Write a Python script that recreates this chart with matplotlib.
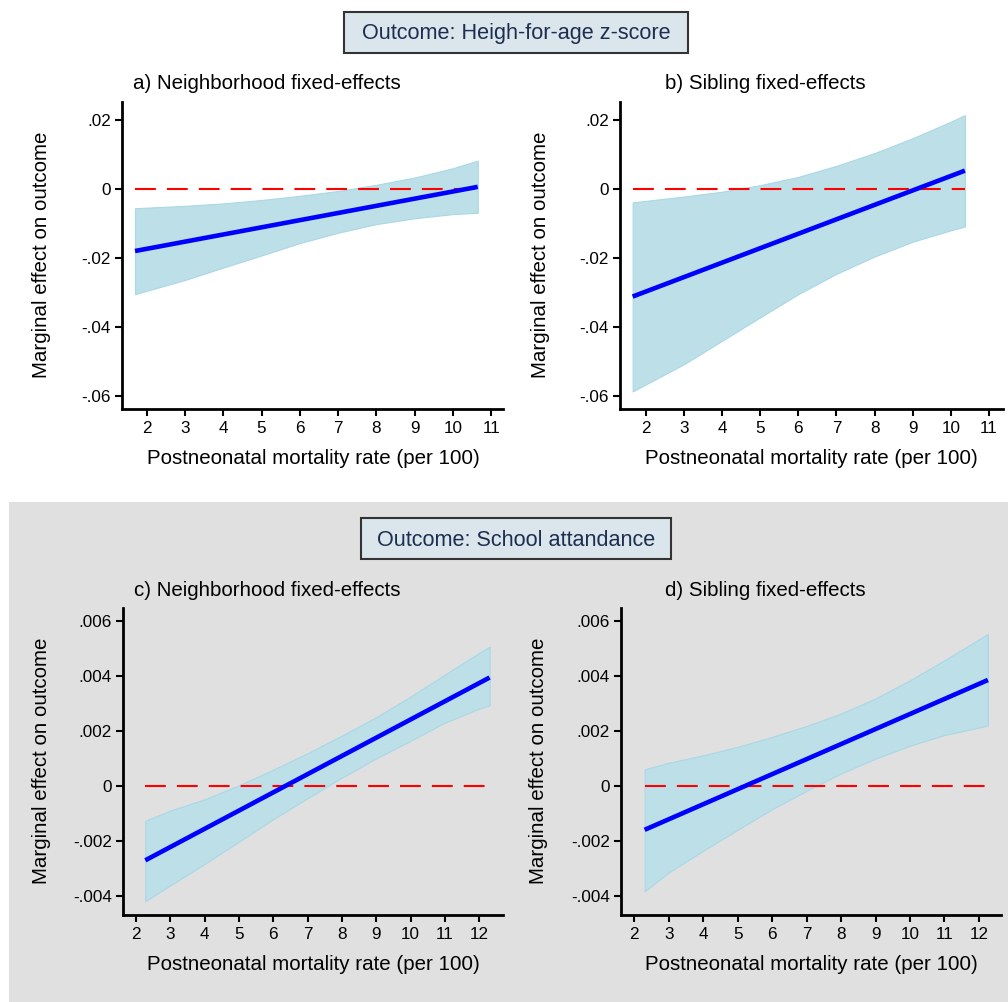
import matplotlib
matplotlib.use("Agg")
import matplotlib.pyplot as plt
from matplotlib.patches import Rectangle

plt.rcParams['font.family'] = ['Liberation Sans', 'DejaVu Sans']

# panel a) height-for-age, neighborhood FE
a_x = [1.695, 3, 4, 5, 6, 7, 8, 9, 10, 10.65]
a_upper = [-0.0056, -0.0049, -0.0042, -0.0032, -0.0020, -0.0006, 0.0012, 0.0033, 0.0060, 0.0082]
a_lower = [-0.0305, -0.0264, -0.0228, -0.0193, -0.0157, -0.0127, -0.0102, -0.0085, -0.0073, -0.0069]
a_line = [-0.0180, 0.0006]

# panel b) height-for-age, sibling FE
b_x = [1.65, 3, 4, 5, 6, 7, 8, 9, 10, 10.37]
b_upper = [-0.0039, -0.0022, -0.0008, 0.0011, 0.0035, 0.0067, 0.0104, 0.0147, 0.0195, 0.0214]
b_lower = [-0.0587, -0.0508, -0.0440, -0.0372, -0.0305, -0.0246, -0.0196, -0.0153, -0.0120, -0.0109]
b_line = [-0.0312, 0.0053]

# panel c) school attendance, neighborhood FE
c_x = [2.27, 3, 4, 5, 6, 7, 8, 9, 10, 11, 12, 12.3]
c_upper = [-0.00127, -0.00090, -0.00049, 0.00002, 0.00059, 0.00119, 0.00183, 0.00250, 0.00325, 0.00405, 0.00484, 0.00506]
c_lower = [-0.00420, -0.00362, -0.00284, -0.00203, -0.00121, -0.00045, 0.00030, 0.00100, 0.00164, 0.00230, 0.00281, 0.00293]
c_line = [-0.00271, 0.00394]

# panel d) school attendance, sibling FE
d_x = [2.30, 3, 4, 5, 6, 7, 8, 9, 10, 11, 12, 12.26]
d_upper = [0.00060, 0.00084, 0.00111, 0.00142, 0.00178, 0.00218, 0.00263, 0.00318, 0.00384, 0.00457, 0.00533, 0.00553]
d_lower = [-0.00384, -0.00315, -0.00236, -0.00160, -0.00085, -0.00018, 0.00045, 0.00099, 0.00146, 0.00185, 0.00212, 0.00220]
d_line = [-0.00160, 0.00385]

top_yticks = [-0.06, -0.04, -0.02, 0, 0.02]
top_ylabels = ['-.06', '-.04', '-.02', '0', '.02']
top_xticks = list(range(2, 12))
bot_yticks = [-0.004, -0.002, 0, 0.002, 0.004, 0.006]
bot_ylabels = ['-.004', '-.002', '0', '.002', '.004', '.006']
bot_xticks = list(range(2, 13))

titles = ['a) Neighborhood fixed-effects', 'b) Sibling fixed-effects',
          'c) Neighborhood fixed-effects', 'd) Sibling fixed-effects']
headers = ['Outcome: Heigh-for-age z-score', 'Outcome: School attandance']

W, H = 1008, 1002
fig = plt.figure(figsize=(W / 100, H / 100), dpi=100)

def fx(px):
    return px / W

def fy(py):
    return 1 - py / H

# grey background of the lower half
fig.patches.append(Rectangle((fx(9), 0), fx(W - 9), fy(502), transform=fig.transFigure,
                             facecolor='#e0e0e0', edgecolor='none', zorder=-5))

BAND = '#bcdfe8'
BAND_EDGE = '#a9d8e6'

def panel(box, xs, up, lo, line, xlim, ylim, xticks, yticks, ylabels):
    l, r, t, b = box
    ax = fig.add_axes([fx(l), fy(b), fx(r - l), (b - t) / H])
    ax.set_zorder(2)
    ax.patch.set_alpha(0)
    ax.fill_between(xs, lo, up, facecolor=BAND, edgecolor=BAND_EDGE, linewidth=0.8, zorder=1)
    ax.plot([xs[0], xs[-1]], [0, 0], color='#ff0000', lw=1.5, dashes=(10, 5.3), zorder=2)
    ax.plot([xs[0], xs[-1]], line, color='#0000ff', lw=3.3, solid_capstyle='butt', zorder=3)
    ax.set_xlim(xlim)
    ax.set_ylim(ylim)
    ax.set_xticks(xticks)
    ax.set_yticks(yticks)
    ax.set_yticklabels(ylabels)
    for s in ['top', 'right']:
        ax.spines[s].set_visible(False)
    for s in ['left', 'bottom']:
        ax.spines[s].set_linewidth(2)
    ax.tick_params(width=1.5, length=5, labelsize=12.3, pad=3.5)
    ax.tick_params(axis='y', pad=3)
    return ax

panel((122, 503, 102, 409), a_x, a_upper, a_lower, a_line, (1.355, 11.31), (-0.0638, 0.0252),
      top_xticks, top_yticks, top_ylabels)
panel((620, 1003, 102, 409), b_x, b_upper, b_lower, b_line, (1.318, 11.37), (-0.0638, 0.0252),
      top_xticks, top_yticks, top_ylabels)
panel((123, 503, 608, 915), c_x, c_upper, c_lower, c_line, (1.62, 12.69), (-0.0047, 0.00647),
      bot_xticks, bot_yticks, bot_ylabels)
panel((621, 1001, 608, 915), d_x, d_upper, d_lower, d_line, (1.614, 12.64), (-0.0047, 0.00647),
      bot_xticks, bot_yticks, bot_ylabels)

# panel titles and axis labels
for i, (cx, by) in enumerate([(267, 89), (765, 89), (267, 596), (765, 596)]):
    fig.text(fx(cx), fy(by), titles[i], ha='center', va='baseline', fontsize=14.8)
for cx, by in [(313, 464), (811, 464), (313, 970), (811, 970)]:
    fig.text(fx(cx), fy(by), 'Postneonatal mortality rate (per 100)', ha='center', va='baseline',
             fontsize=14.8)
for cx, cy in [(42, 255), (540, 255), (42, 761), (539, 761)]:
    fig.text(fx(cx), fy(cy), 'Marginal effect on outcome', rotation=90, ha='center', va='center',
             fontsize=14.8)

# outcome header boxes
for (l, r, t, b), base, txt in [((344, 688, 12, 53), 39.5, headers[0]),
                                ((361, 671, 518, 559), 545.5, headers[1])]:
    fig.patches.append(Rectangle((fx(l), fy(b)), fx(r - l), (b - t) / H, transform=fig.transFigure,
                                 facecolor='#dae6ec', edgecolor='#333333', linewidth=1.5, zorder=1))
    fig.text(fx((l + r) / 2), fy(base), txt, ha='center', va='baseline', fontsize=15.6,
             color='#1f2d50', zorder=2)

fig.savefig('out.png', dpi=100)
